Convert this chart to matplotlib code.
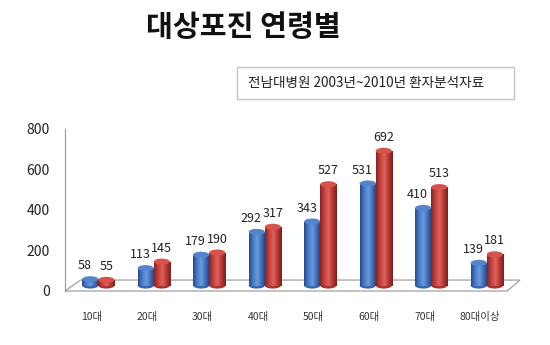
import numpy as np
import matplotlib.pyplot as plt
from matplotlib.patches import Rectangle, Ellipse, Polygon
from matplotlib.colors import LinearSegmentedColormap

plt.rcParams['font.family'] = ['Noto Sans CJK KR', 'DejaVu Sans']

ages = ['10대', '20대', '30대', '40대', '50대', '60대', '70대', '80대이상']
blue_vals = [58, 113, 179, 292, 343, 531, 410, 139]
red_vals = [55, 145, 190, 317, 527, 692, 513, 181]

W, H = 550, 345
fig = plt.figure(figsize=(W / 100, H / 100), dpi=100)
ax = fig.add_axes([65 / W, 54 / H, 455 / W, 162 / H])
ax.set_xlim(-0.6, 7.6)
ax.set_ylim(0, 800)

bw = 0.29
cap_h = 30  # ellipse height in data units

blue_cmap = LinearSegmentedColormap.from_list(
    'b', ['#274a86', '#4a7cc9', '#6b9ae0', '#3f6db6', '#213f75'])
red_cmap = LinearSegmentedColormap.from_list(
    'r', ['#852523', '#c4413c', '#de625c', '#b53733', '#7a201e'])
grad = np.linspace(0, 1, 64).reshape(1, -1)

# floor of the 3D plot
floor = Polygon([(-0.6, 0), (7.37, 0), (7.6, 54), (-0.32, 54)],
                closed=True, facecolor='white', edgecolor='#a0a0a0',
                lw=0.9, zorder=1, clip_on=False)
ax.add_patch(floor)


def cylinder(xc, val, cmap, cap_color, base_color):
    x0 = xc - bw / 2
    base = Ellipse((xc, 27), bw, cap_h, facecolor=base_color,
                   edgecolor='none', zorder=2)
    ax.add_patch(base)
    body = Rectangle((x0, 27), bw, val - 27, facecolor='none',
                     edgecolor='none', zorder=2)
    ax.add_patch(body)
    im = ax.imshow(grad, cmap=cmap, extent=[x0, x0 + bw, 27, val],
                   aspect='auto', zorder=2)
    im.set_clip_path(body)
    top = Ellipse((xc, val), bw, cap_h, facecolor=cap_color,
                  edgecolor='none', zorder=3)
    ax.add_patch(top)


x = np.arange(len(ages))
for i in x:
    cylinder(i - bw / 2, blue_vals[i], blue_cmap, '#5584cf', '#3a66ad')
    cylinder(i + bw / 2, red_vals[i], red_cmap, '#d6524d', '#a8322f')
    ax.annotate(str(blue_vals[i]), (i - bw / 2, blue_vals[i]),
                xytext=(-4, 5), textcoords='offset points',
                ha='center', va='bottom', fontsize=9, color='#222222')
    ax.annotate(str(red_vals[i]), (i + bw / 2, red_vals[i]),
                xytext=(0, 5), textcoords='offset points',
                ha='center', va='bottom', fontsize=9, color='#222222')

ax.set_yticks([0, 200, 400, 600, 800])
ax.set_xticks(x - 0.12)
ax.set_xticklabels(ages, fontsize=7.5, color='#333333')
ax.tick_params(axis='x', length=0, pad=15)
ax.tick_params(axis='y', length=0, pad=11, labelsize=10, labelcolor='#222222')

for s in ['top', 'right', 'bottom']:
    ax.spines[s].set_visible(False)
ax.spines['left'].set_color('#a0a0a0')
ax.spines['left'].set_linewidth(0.9)

fig.text(243 / W, 1 - 27 / H, '대상포진 연령별', ha='center', va='center',
         fontsize=21, fontweight='bold', color='#111111')

box = Rectangle((237 / W, 1 - 99 / H), 277 / W, 32 / H, transform=fig.transFigure,
                facecolor='white', edgecolor='#c4c4c4', lw=1)
fig.patches.append(box)
fig.text(248 / W, 1 - 83 / H, '전남대병원 2003년~2010년 환자분석자료',
         ha='left', va='center', fontsize=9.8, color='#222222')

fig.savefig('out.png', dpi=100)
